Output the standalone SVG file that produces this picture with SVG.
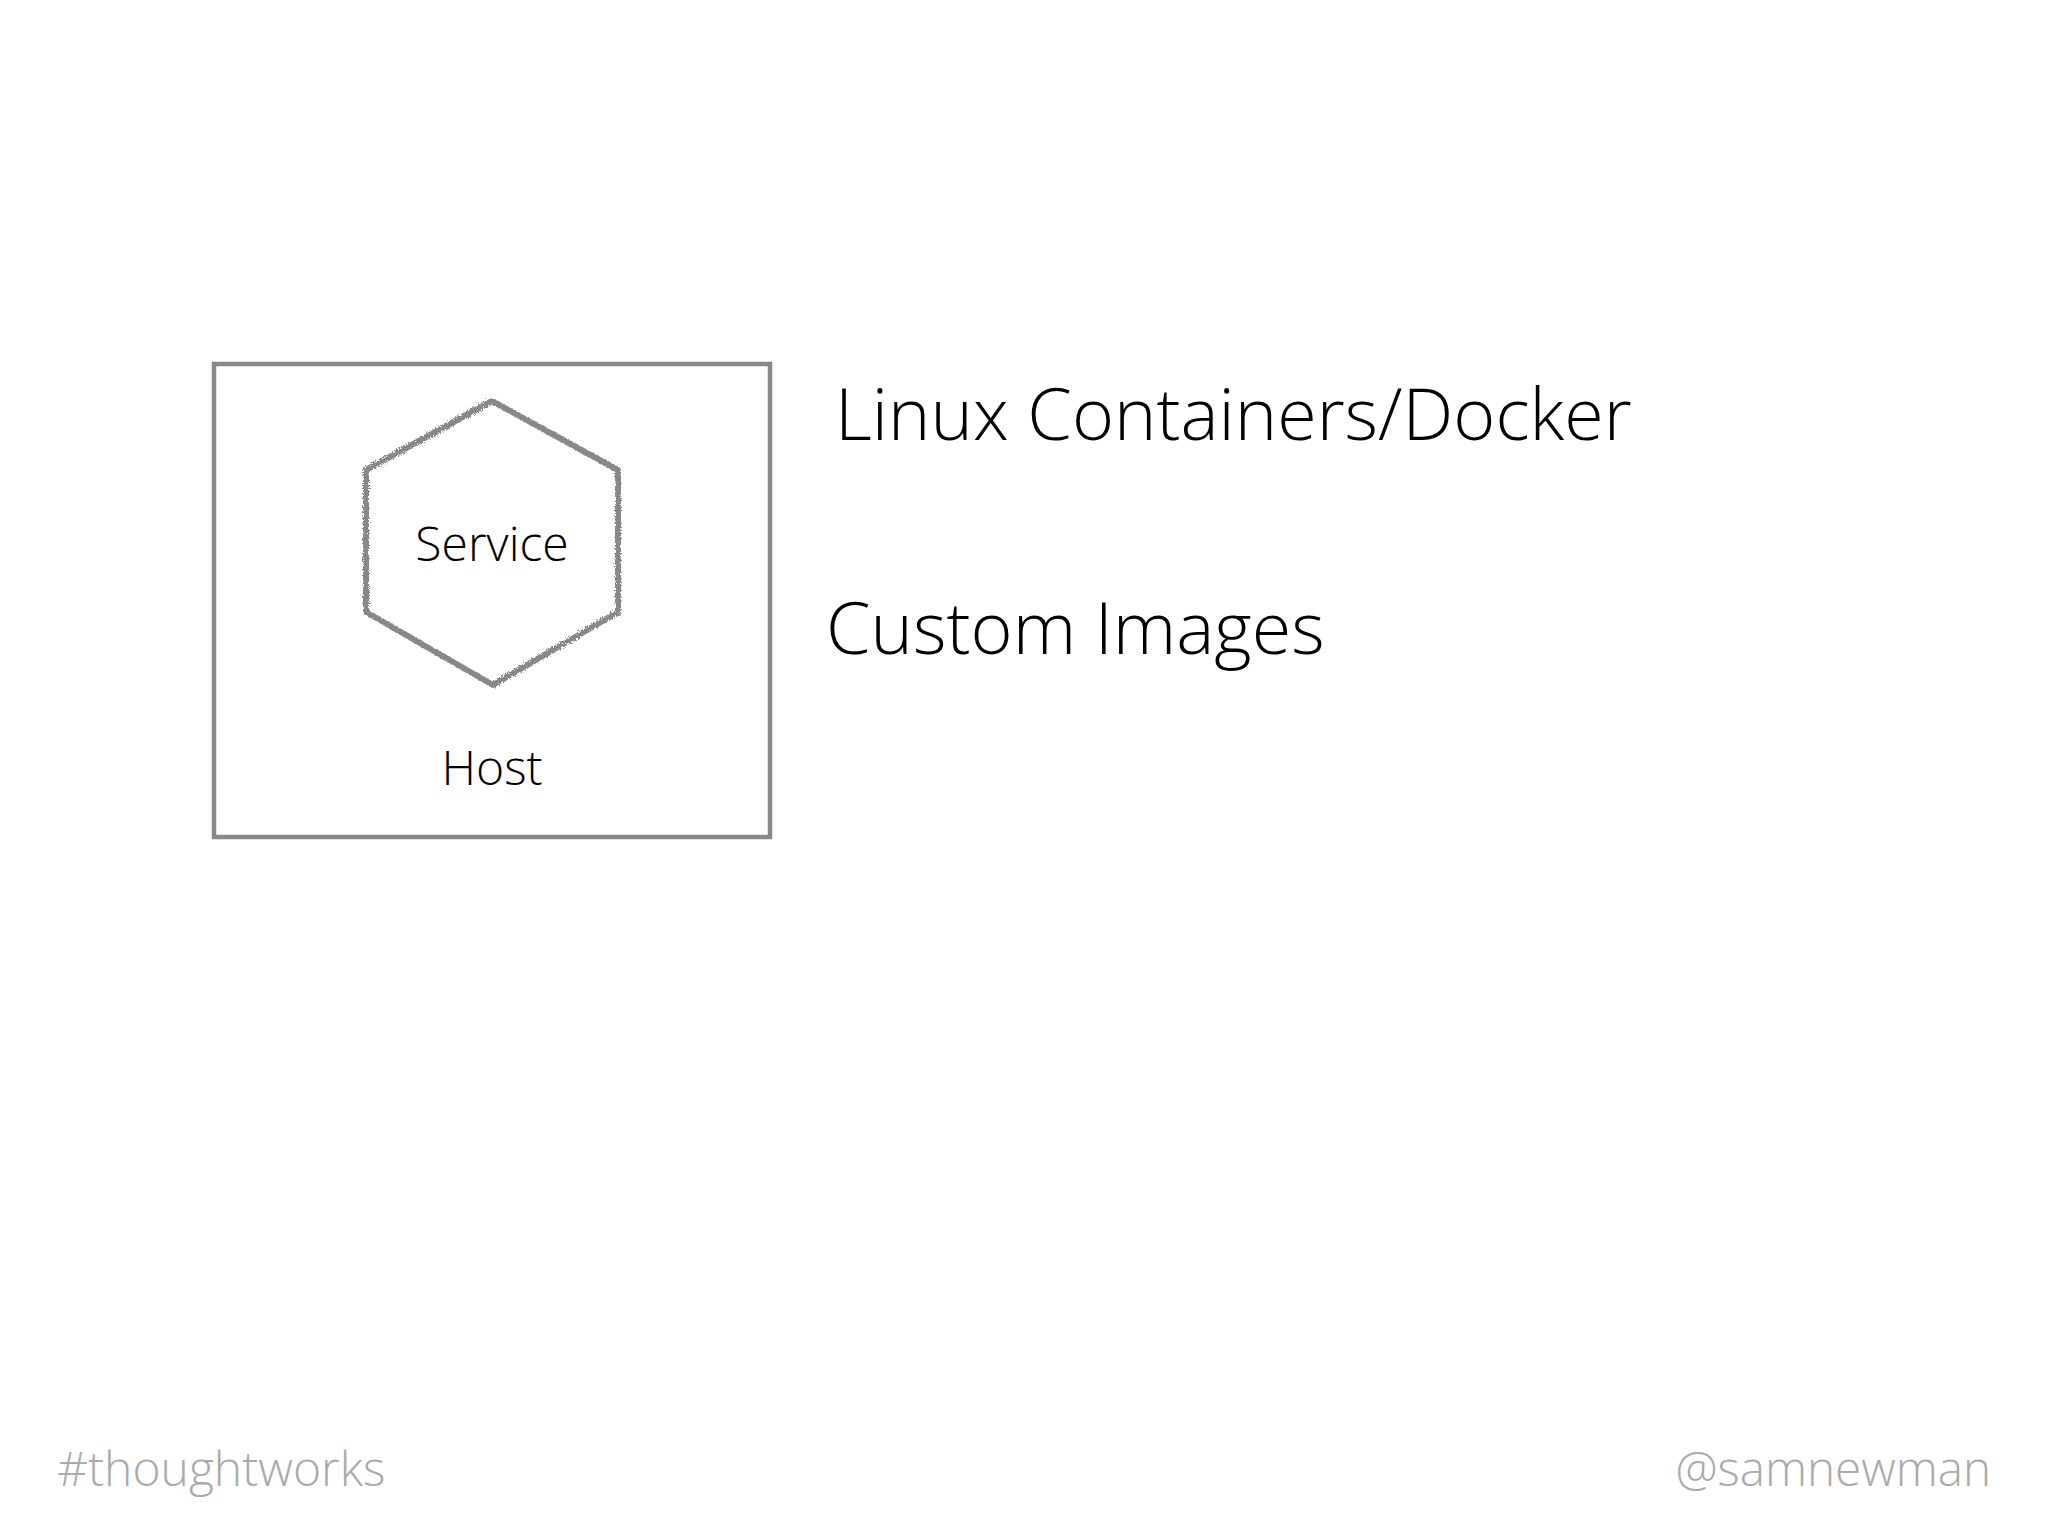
<svg xmlns="http://www.w3.org/2000/svg" width="2048" height="1536" viewBox="0 0 2048 1536">
<defs>
<filter id="rough" x="-5%" y="-5%" width="110%" height="110%">
<feTurbulence type="fractalNoise" baseFrequency="0.6" numOctaves="3" seed="4" result="n"/>
<feDisplacementMap in="SourceGraphic" in2="n" scale="5"/>
</filter>
</defs>
<style>
text{font-family:"Open Sans","Noto Sans",sans-serif;font-weight:300}
.b{font-size:71.85px;fill:#000}
.m{font-size:48px;fill:#000;text-anchor:middle}
.f{font-size:48px;fill:#aaa}
.e{font-size:47.6px;fill:#aaa;text-anchor:end}
.r{fill:none;stroke:#888;stroke-width:4.5}
.s{fill:none;stroke:#888;stroke-width:6;stroke-linejoin:round}
</style>
<rect width="2048" height="1536" fill="#fff"/>
<g id="host"><rect class="r" x="214" y="364" width="556" height="473"/><text class="m" x="492" y="785">Host</text></g>
<g id="service"><polygon class="s" filter="url(#rough)" points="492,401 618,470 618,612 493,685 366,612 366,470"/><text class="m" x="492" y="561">Service</text></g>
<text class="b" x="835" y="440">Linux Containers/Docker</text>
<text class="b" x="826" y="654">Custom Images</text>
<text class="f" x="57" y="1486">#thoughtworks</text>
<text class="e" x="1991" y="1486">@samnewman</text>
</svg>
